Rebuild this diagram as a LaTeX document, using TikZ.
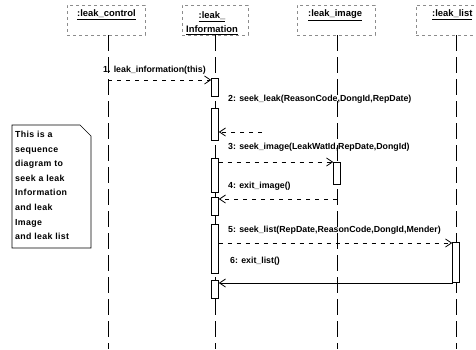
\documentclass[tikz,border=0pt]{standalone}
\usepackage{fontspec}
\setmainfont{Liberation Sans}
\newfontfamily\notefont[LetterSpace=4]{Liberation Sans}
\usetikzlibrary{arrows.meta}
\begin{document}
\begin{tikzpicture}[x=1pt,y=-1pt,
  lbl/.style={font=\bfseries\fontsize{8.8}{10}\selectfont, inner sep=0pt, anchor=west},
  hdr/.style={font=\bfseries\fontsize{9.4}{14}\selectfont, inner sep=0pt, anchor=west},
  hdrbox/.style={draw=black!45, dashed, line width=0.4pt, minimum height=30pt, inner sep=0pt},
  life/.style={line width=0.6pt, dash pattern=on 16pt off 6pt},
  act/.style={draw, line width=0.6pt, fill=white, minimum width=7pt, inner sep=0pt},
  msg/.style={line width=0.5pt, dash pattern=on 4pt off 5pt, -{Straight Barb[length=6pt,width=8pt,line width=0.8pt]}},
  msgsolid/.style={line width=0.6pt, -{Straight Barb[length=6pt,width=8pt,line width=0.8pt]}},
  notebox/.style={line width=0.6pt}
]
\useasboundingbox (0,0) rectangle (476,349);

% object header boxes
\node[hdrbox, minimum width=78pt] (bc) at (106,20) {};
\node[hdrbox, minimum width=66pt] (bi) at (215,20) {};
\node[hdrbox, minimum width=78pt] (bm) at (336,20) {};
\node[hdrbox, minimum width=80pt] (bl) at (456,20) {};

\node[hdr] (hc) at (77,15) {\underline{:leak\_control}};
\node[hdr, anchor=center, align=center] (hi) at (212,23) {\underline{:leak\_}\\\underline{Information}};
\node[hdr] (hm) at (308,15) {\underline{:leak\_image}};
\node[hdr] (hl) at (432,15) {\underline{:leak\_list}};

% lifeline ends
\coordinate (ec) at (108,349);
\coordinate (ei) at (215,349);
\coordinate (em) at (337,349);
\coordinate (el) at (456,349);
\draw[life] (bc.south -| ec) -- (ec);
\draw[life] (bi.south -| ei) -- (ei);
\draw[life] (bm.south -| em) -- (em);
\draw[life] (bl.south -| el) -- (el);

% activations on leak_Information
\node[act, minimum height=18pt] (aA) at (215,87) {};
\node[act, minimum height=32pt] (aB) at (215,124) {};
\node[act, minimum height=34pt] (aC) at (215,175) {};
\node[act, minimum height=18pt] (aD) at (215,206) {};
\node[act, minimum height=49pt] (aE) at (215,248.5) {};
\node[act, minimum height=18pt] (aF) at (215,289) {};
% activation on leak_image and leak_list
\node[act, minimum height=22pt] (aM) at (337,173) {};
\node[act, minimum height=40pt] (aL) at (456,262) {};

% messages
\coordinate (m1s) at (108,80);
\draw[msg] (m1s) -- (m1s -| aA.west);
\node[lbl] (l1) at (103,70) {1. leak\_information(this)};

\coordinate (m2s) at (262,132);
\draw[msg] (m2s) -- (m2s -| aB.east);
\node[lbl] (l2) at (228,99) {2: seek\_leak(ReasonCode,DongId,RepDate)};

\coordinate (m3s) at (218.5,162);
\draw[msg] (m3s) -- (m3s -| aM.west);
\node[lbl] (l3) at (228,147) {3: seek\_image(LeakWatId,RepDate,DongId)};

\coordinate (m4s) at (337,199);
\draw[msg] (m4s) -- (m4s -| aD.east);
\node[lbl] (l4) at (228,186) {4: exit\_image()};

\coordinate (m5s) at (218.5,243);
\draw[msg] (m5s) -- (m5s -| aL.west);
\node[lbl] (l5) at (228,230) {5: seek\_list(RepDate,ReasonCode,DongId,Mender)};

\coordinate (m6s) at (452.5,283);
\draw[msgsolid] (m6s) -- (m6s -| aF.east);
\node[lbl] (l6) at (230,261) {6: exit\_list()};

% note
\draw[notebox, fill=white] (12,125) -- (80,125) -- (91,136) -- (91,248) -- (12,248) -- cycle;
\node[lbl, anchor=north west, align=left, font=\notefont\bfseries\fontsize{8.8}{14.6}\selectfont] (nt) at (15,131)
 {This is a\\sequence\\diagram to\\seek a leak\\Information\\and leak\\Image\\and leak list};
\end{tikzpicture}
\end{document}
